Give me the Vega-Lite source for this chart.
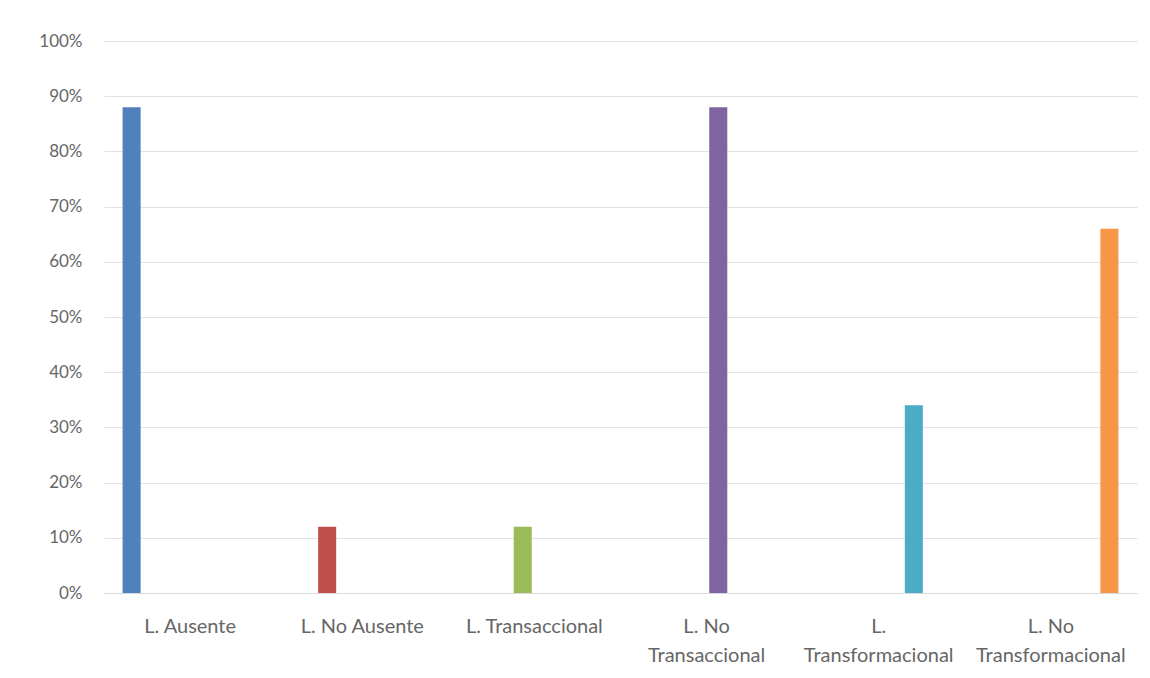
{
  "$schema": "https://vega.github.io/schema/vega-lite/v6.json",
  "width": 1033,
  "height": 552,
  "autosize": {"type": "none"},
  "padding": {"left": 104, "top": 41, "right": 13, "bottom": 85},
  "background": "#ffffff",
  "config": {
    "view": {"stroke": null},
    "font": "Lato",
    "axis": {"labelFont": "Lato", "labelColor": "#666666", "labelFontSize": 17}
  },
  "data": {
    "values": [
      {"categoria": "L. Ausente", "serie": "L. Ausente", "valor": 0.88},
      {"categoria": "L. No Ausente", "serie": "L. No Ausente", "valor": 0.12},
      {"categoria": "L. Transaccional", "serie": "L. Transaccional", "valor": 0.12},
      {"categoria": "L. No Transaccional", "serie": "L. No Transaccional", "valor": 0.88},
      {"categoria": "L. Transformacional", "serie": "L. Transformacional", "valor": 0.34},
      {"categoria": "L. No Transformacional", "serie": "L. No Transformacional", "valor": 0.66}
    ]
  },
  "mark": {"type": "bar"},
  "encoding": {
    "x": {
      "field": "categoria",
      "type": "nominal",
      "sort": null,
      "scale": {"paddingInner": 0.215, "paddingOuter": 0.108},
      "axis": {
        "title": null,
        "labelAngle": 0,
        "labelFontSize": 20,
        "ticks": false,
        "domainColor": "#d9d9d9",
        "domainWidth": 1,
        "labelPadding": 33,
        "labelLineHeight": 29,
        "labelBaseline": "middle",
        "labelOverlap": false,
        "labelExpr": "datum.value == 'L. No Transaccional' ? ['L. No', 'Transaccional'] : datum.value == 'L. Transformacional' ? ['L.', 'Transformacional'] : datum.value == 'L. No Transformacional' ? ['L. No', 'Transformacional'] : datum.value"
      }
    },
    "xOffset": {
      "field": "serie",
      "type": "nominal",
      "scale": {
        "domain": ["L. Ausente", "L. No Ausente", "L. Transaccional", "L. No Transaccional", "L. Transformacional", "L. No Transformacional"],
        "paddingInner": 0.23,
        "paddingOuter": 0
      }
    },
    "y": {
      "field": "valor",
      "type": "quantitative",
      "scale": {"domain": [0, 1], "nice": false},
      "axis": {
        "title": null,
        "format": ".0%",
        "values": [0, 0.1, 0.2, 0.3, 0.4, 0.5, 0.6, 0.7, 0.8, 0.9, 1],
        "labelOverlap": false,
        "domain": false,
        "ticks": false,
        "labelPadding": 22,
        "gridColor": "#e3e3e3",
        "gridWidth": 1
      }
    },
    "color": {
      "field": "serie",
      "type": "nominal",
      "legend": null,
      "scale": {
        "domain": ["L. Ausente", "L. No Ausente", "L. Transaccional", "L. No Transaccional", "L. Transformacional", "L. No Transformacional"],
        "range": ["#4f81bd", "#c0504d", "#9bbb59", "#8064a2", "#4bacc6", "#f79646"]
      }
    }
  }
}
